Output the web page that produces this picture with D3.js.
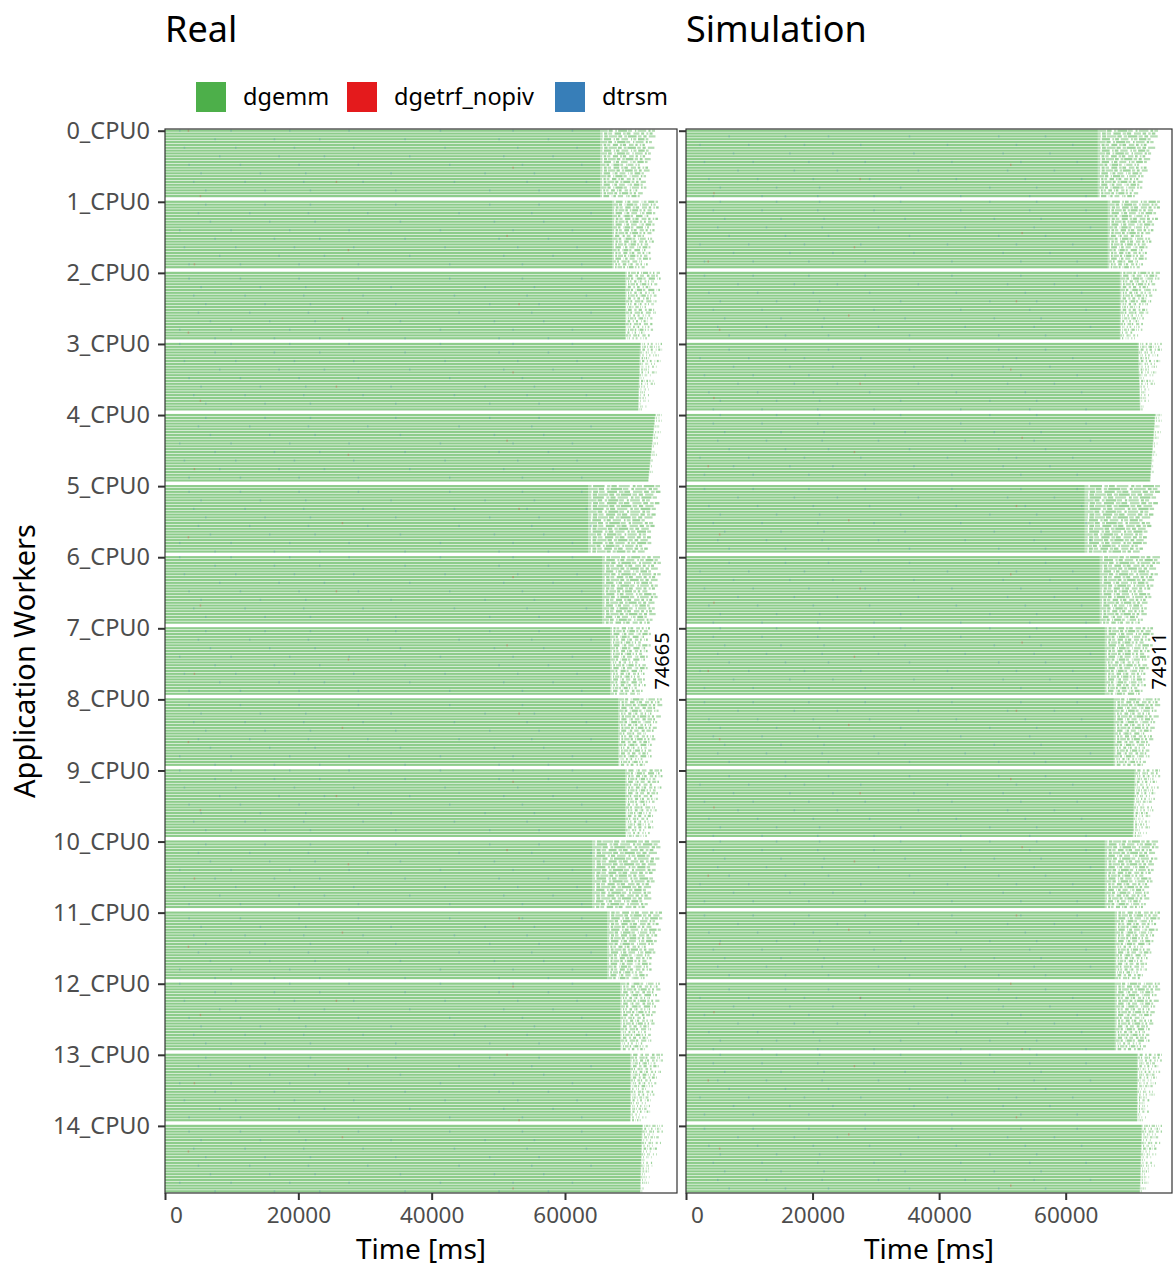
<!DOCTYPE html>
<head>
    <meta charset="utf-8">
    <title>Real vs Simulation - Gantt</title>
    <style>
        body { margin: 0; background: #fff; }
        text { font-family: "Noto Sans", "Open Sans", sans-serif; }
    </style>
</head>
<body>

<svg width="1173" height="1266"></svg>

<script src="https://d3js.org/d3.v7.min.js"></script>

<script>
    // node labels on the y axis (one label per node, on its first worker)
    var nodes = ["0_CPU0", "1_CPU0", "2_CPU0", "3_CPU0", "4_CPU0", "5_CPU0", "6_CPU0", "7_CPU0",
                 "8_CPU0", "9_CPU0", "10_CPU0", "11_CPU0", "12_CPU0", "13_CPU0", "14_CPU0"];
    var rowsPerNode = 24;

    var states = ["dgemm", "dgetrf_nopiv", "dtrsm"];
    var stateColors = ["#4DAF4A", "#E41A1C", "#377EB8"];

    var xTicks = [0, 20000, 40000, 60000];
    var panels = ["Real", "Simulation"];
    var makespans = [74665, 74911];

    // per node: time (ms) where continuous dgemm work ends (first / last worker)
    var realSolidTop    = [65250, 67050, 69000, 71250, 73500, 63450, 65550, 66750, 67950, 69000, 64050, 66300, 68250, 69750, 71550];
    var realSolidBottom = [65250, 67050, 69000, 70950, 72450, 63450, 65550, 66750, 67950, 69000, 64050, 66300, 68250, 69750, 71250];
    // per node: end of the last task (first / last worker)
    var realEndTop      = [73500, 73950, 74250, 74550, 74550, 74250, 74250, 72750, 74550, 74550, 74250, 74550, 74250, 74650, 74650];
    var realEndBottom   = [72000, 72750, 73050, 72450, 73050, 72750, 73500, 72000, 72750, 73050, 72750, 72750, 72750, 72450, 72450];

    var simSolidTop     = [65070, 66650, 68560, 71400, 74100, 63000, 65380, 66180, 67600, 70900, 66180, 67760, 67760, 71260, 72000];
    var simSolidBottom  = [65070, 66650, 68560, 71730, 73300, 63000, 65380, 66180, 67600, 70600, 66180, 67760, 67760, 71260, 71700];
    var simEndTop       = [74590, 74900, 74900, 75200, 75200, 74900, 74900, 73800, 74900, 74900, 74600, 74900, 74900, 75200, 75200];
    var simEndBottom    = [71730, 72500, 71700, 73000, 73800, 72500, 72500, 72500, 73000, 73000, 73000, 72500, 73000, 73000, 73000];

    // ragged end offsets per worker row (ms)
    var rowJitter = [0, -300, 200, -800, -200, -1200, 300, -500, -100, -900, 0, -400,
                     -1500, -200, 100, -700, -300, -1000, -200, -600, 0, -1300, -400, -800];
    // idle columns in the tail: position (share of tail) and width (ms)
    var gapAt    = [0.05, 0.14, 0.23, 0.31, 0.40, 0.49, 0.58, 0.66, 0.75, 0.84, 0.92];
    var gapWidth = [220, 140, 380, 160, 300, 120, 450, 200, 260, 330, 180];
    // small dtrsm / dgetrf tasks inside the dense part (ms)
    var dtrsmTimes  = [2100, 5300, 9800, 14200, 18600, 21000, 27500, 33800, 41200, 47900, 52100, 55300, 61000];
    var dgetrfTimes = [3400, 25600, 51200];

    var svg = d3.select("svg");

    var plotTop = 129, plotBottom = 1193;
    var panelX = [[165, 677], [686, 1172]];
    var nSlots = nodes.length * (rowsPerNode + 1) - 1;

    var y = d3.scaleLinear()
        .domain([-0.6, nSlots - 1 + 0.6])
        .range([plotTop, plotBottom]);
    var slotH = y(1) - y(0);
    var barH = slotH * 0.78;

    var data = [
        {solidTop: realSolidTop, solidBottom: realSolidBottom, endTop: realEndTop, endBottom: realEndBottom},
        {solidTop: simSolidTop, solidBottom: simSolidBottom, endTop: simEndTop, endBottom: simEndBottom}
    ];

    // build tasks for one panel
    function buildRows(d) {
        var rows = [];
        nodes.forEach(function(n, g) {
            for (var r = 0; r < rowsPerNode; r++) {
                var t = r / (rowsPerNode - 1);
                var solid = d.solidTop[g] + (d.solidBottom[g] - d.solidTop[g]) * t;
                var end = d.endTop[g] + (d.endBottom[g] - d.endTop[g]) * t + rowJitter[r];
                if (end < solid) end = solid + 150;
                var tail = [];
                var cur = solid;
                gapAt.forEach(function(p, k) {
                    var gs = solid + (end - solid) * p;
                    if ((r * 3 + k * 7 + g) % 4 === 0 || gs <= cur) return;
                    tail.push([cur, gs]);
                    cur = gs + gapWidth[k];
                });
                if (cur < end) tail.push([cur, end]);
                rows.push({node: g, row: r, slot: g * (rowsPerNode + 1) + r, solid: solid, tail: tail});
            }
        });
        return rows;
    }

    panels.forEach(function(title, p) {
        var x = d3.scaleLinear()
            .domain([0, 76800])
            .range(panelX[p]);

        var rows = buildRows(data[p]);
        var g = svg.append("g").attr("class", "panel");

        // dense dgemm part
        g.selectAll("rect.solid")
            .data(rows)
            .enter().append("rect")
                .attr("class", "solid")
                .attr("x", x(0))
                .attr("y", function(d) { return y(d.slot) - barH / 2; })
                .attr("width", function(d) { return x(d.solid) - x(0); })
                .attr("height", barH)
                .attr("fill", stateColors[0])
                .attr("fill-opacity", 0.64);

        // sparse tail
        var tails = [];
        rows.forEach(function(d) {
            d.tail.forEach(function(s, k) { tails.push({slot: d.slot, s: s, k: k}); });
        });
        g.selectAll("rect.tail")
            .data(tails)
            .enter().append("rect")
                .attr("class", "tail")
                .attr("x", function(d) { return x(d.s[0]); })
                .attr("y", function(d) { return y(d.slot) - barH / 2; })
                .attr("width", function(d) { return Math.max(0.6, x(d.s[1]) - x(d.s[0])); })
                .attr("height", barH)
                .attr("fill", stateColors[0])
                .attr("fill-opacity", function(d) { return d.k % 2 ? 0.55 : 0.42; });

        // small dtrsm and dgetrf tasks
        var specks = [];
        rows.forEach(function(d) {
            dtrsmTimes.forEach(function(tm, k) {
                if ((d.row + d.node * 2 + k * 3 + p) % 6 === 0 && tm < d.solid)
                    specks.push({slot: d.slot, t: tm + (d.row % 5) * 700, c: stateColors[2]});
            });
            dgetrfTimes.forEach(function(tm, k) {
                if ((d.row + d.node + k * 5 + p) % 23 === 0 && tm < d.solid)
                    specks.push({slot: d.slot, t: tm + (d.row % 3) * 900, c: stateColors[1]});
            });
        });
        g.selectAll("rect.speck")
            .data(specks)
            .enter().append("rect")
                .attr("class", "speck")
                .attr("x", function(d) { return x(d.t); })
                .attr("y", function(d) { return y(d.slot) - barH / 2; })
                .attr("width", 1.5)
                .attr("height", barH)
                .attr("fill", function(d) { return d.c; })
                .attr("fill-opacity", 0.25);

        // panel border
        g.append("rect")
            .attr("x", panelX[p][0])
            .attr("y", plotTop)
            .attr("width", panelX[p][1] - panelX[p][0])
            .attr("height", plotBottom - plotTop)
            .attr("fill", "none")
            .attr("stroke", "#333")
            .attr("stroke-width", 1.2);

        // makespan label
        var mx = x(makespans[p]), my = (plotTop + plotBottom) / 2;
        g.append("text")
            .attr("transform", "translate(" + (mx + 1) + "," + my + ") rotate(-90)")
            .attr("text-anchor", "middle")
            .attr("dominant-baseline", "middle")
            .attr("font-size", 20)
            .attr("fill", "#000")
            .text(makespans[p]);

        // x axis
        var xa = svg.append("g")
            .attr("transform", "translate(0," + plotBottom + ")")
            .call(d3.axisBottom(x).tickValues(xTicks).tickSize(7).tickPadding(7)
                .tickFormat(function(v) { return v; }));
        xa.select(".domain").remove();
        xa.selectAll("line").attr("stroke", "#333").attr("stroke-width", 2);
        xa.selectAll("text")
            .attr("font-size", 22.5)
            .attr("fill", "#4d4d4d")
            .attr("font-family", "Noto Sans, sans-serif")
            .attr("dx", function(v) { return v === 0 ? 11 : 0; });

        svg.append("text")
            .attr("x", (panelX[p][0] + panelX[p][1]) / 2)
            .attr("y", 1259)
            .attr("text-anchor", "middle")
            .attr("font-size", 28)
            .attr("fill", "#000")
            .text("Time [ms]");

        // y axis ticks (labels only on the first panel)
        var ya = svg.append("g")
            .attr("transform", "translate(" + panelX[p][0] + ",0)")
            .call(d3.axisLeft(y)
                .tickValues(nodes.map(function(n, i) { return i * (rowsPerNode + 1); }))
                .tickSize(7).tickPadding(8)
                .tickFormat(function(v) { return p === 0 ? nodes[v / (rowsPerNode + 1)] : ""; }));
        ya.select(".domain").remove();
        ya.selectAll("line").attr("stroke", "#333").attr("stroke-width", 2);
        ya.selectAll("text")
            .attr("font-size", 23.5)
            .attr("fill", "#4d4d4d")
            .attr("font-family", "Noto Sans, sans-serif");

        // panel title
        svg.append("text")
            .attr("x", panelX[p][0])
            .attr("y", 42)
            .attr("font-size", 36)
            .attr("fill", "#000")
            .text(title);
    });

    // y axis title
    svg.append("text")
        .attr("transform", "translate(35," + (plotTop + plotBottom) / 2 + ") rotate(-90)")
        .attr("text-anchor", "middle")
        .attr("font-size", 29)
        .attr("fill", "#000")
        .text("Application Workers");

    // legend
    var legX = [196, 347, 555];
    var leg = svg.append("g").attr("class", "legend");
    states.forEach(function(s, i) {
        leg.append("rect")
            .attr("x", legX[i])
            .attr("y", 82)
            .attr("width", 30)
            .attr("height", 30)
            .attr("fill", stateColors[i]);
        leg.append("text")
            .attr("x", legX[i] + 47)
            .attr("y", 99)
            .attr("dominant-baseline", "middle")
            .attr("font-size", 23.5)
            .attr("fill", "#000")
            .text(s);
    });
</script>

</body>
